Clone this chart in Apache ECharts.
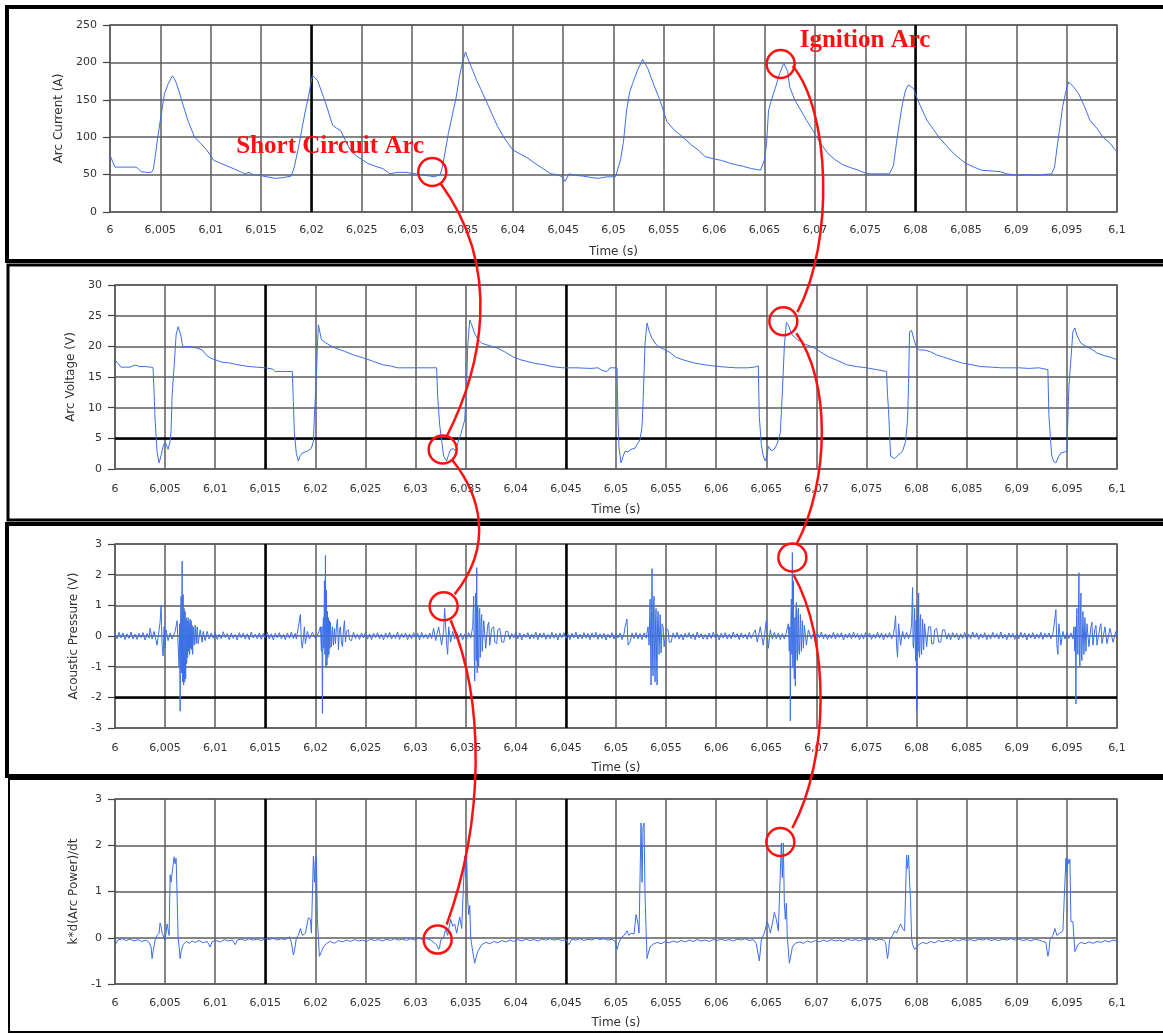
<!DOCTYPE html>
<html>
<head>
<meta charset="utf-8">
<script src="https://cdn.jsdelivr.net/npm/echarts@6/dist/echarts.min.js"></script>
<style>
html,body{margin:0;padding:0;background:#fff;}
#chart{width:1163px;height:1034px;}
</style>
</head>
<body>
<div id="chart"></div>
<script>
// ---------- tick labels ----------
const xTickLabels = ['6','6,005','6,01','6,015','6,02','6,025','6,03','6,035','6,04','6,045','6,05','6,055','6,06','6,065','6,07','6,075','6,08','6,085','6,09','6,095','6,1'];
const yAxisNames = ['Arc Current (A)','Arc Voltage (V)','Acoustic Pressure (V)','k*d(Arc Power)/dt'];
const yRanges = [[0,250,50],[0,30,5],[-3,3,1],[-1,3,1]];
const thickX = [[6.02,6.08],[6.015,6.045],[6.015,6.045],[6.015,6.045]];
const thickY = [[],[5],[-2],[]];

// ---------- series values [time (s), value] ----------
const currentData = [
[6.0000,76],[6.0003,66],[6.0005,60],[6.0016,60],[6.0026,60],[6.0028,58],[6.0031,54],[6.0036,53],[6.0041,53],[6.0043,57],[6.0045,75],[6.0047,96],[6.0050,123],[6.0052,140],[6.0054,158],[6.0058,172],[6.0062,182],[6.0064,178],[6.0066,172],[6.0070,155],[6.0073,141],[6.0078,120],[6.0084,100],[6.0090,92],[6.0096,83],[6.0103,69],[6.0110,65],[6.0119,60],[6.0126,56],[6.0134,51],[6.0138,53],[6.0142,50],[6.0149,49],[6.0156,47],[6.0164,45],[6.0172,46],[6.0180,48],[6.0183,60],[6.0187,85],[6.0191,114],[6.0194,135],[6.0197,154],[6.0201,183],[6.0203,180],[6.0206,176],[6.0212,154],[6.0216,138],[6.0221,116],[6.0225,112],[6.0229,109],[6.0235,92],[6.0240,80],[6.0248,72],[6.0256,65],[6.0264,61],[6.0271,58],[6.0278,51],[6.0285,53],[6.0294,53],[6.0303,51],[6.0313,49],[6.0318,48],[6.0322,47],[6.0328,50],[6.0330,60],[6.0332,74],[6.0336,105],[6.0341,136],[6.0344,155],[6.0347,181],[6.0350,200],[6.0353,214],[6.0356,203],[6.0360,190],[6.0364,176],[6.0368,165],[6.0373,150],[6.0379,132],[6.0385,114],[6.0392,98],[6.0400,83],[6.0408,77],[6.0415,72],[6.0422,65],[6.0430,58],[6.0438,51],[6.0444,50],[6.0449,47],[6.0452,41],[6.0456,51],[6.0462,49],[6.0470,48],[6.0478,46],[6.0485,45],[6.0493,47],[6.0502,47],[6.0507,70],[6.0510,95],[6.0513,136],[6.0516,160],[6.0519,172],[6.0524,190],[6.0529,204],[6.0534,192],[6.0540,170],[6.0546,150],[6.0553,121],[6.0560,110],[6.0569,100],[6.0577,90],[6.0584,83],[6.0591,74],[6.0600,71],[6.0607,69],[6.0614,66],[6.0622,63],[6.0629,61],[6.0637,58],[6.0646,56],[6.0650,70],[6.0652,92],[6.0654,136],[6.0658,155],[6.0661,167],[6.0665,185],[6.0669,199],[6.0673,188],[6.0675,167],[6.0680,150],[6.0686,136],[6.0692,122],[6.0698,109],[6.0705,93],[6.0713,78],[6.0720,70],[6.0728,63],[6.0736,59],[6.0743,56],[6.0750,52],[6.0755,51],[6.0764,51],[6.0774,51],[6.0778,62],[6.0781,92],[6.0784,120],[6.0787,145],[6.0790,163],[6.0793,170],[6.0798,165],[6.0802,150],[6.0807,135],[6.0812,121],[6.0818,110],[6.0823,100],[6.0831,88],[6.0838,78],[6.0845,70],[6.0850,65],[6.0858,60],[6.0865,56],[6.0874,55],[6.0884,54],[6.0890,51],[6.0897,50],[6.0903,49],[6.0910,50],[6.0918,49],[6.0926,50],[6.0935,51],[6.0938,60],[6.0941,92],[6.0944,120],[6.0946,141],[6.0949,160],[6.0952,174],[6.0957,167],[6.0962,158],[6.0968,140],[6.0973,123],[6.0980,112],[6.0986,100],[6.0993,92],[6.1000,80]
];

const voltageData = [
[6.0000,17.8],[6.0003,17.2],[6.0006,16.6],[6.0012,16.6],[6.0015,16.6],[6.0019,16.9],[6.0022,16.9],[6.0024,16.7],[6.0030,16.7],[6.0036,16.6],[6.0038,16.5],[6.0039,12.4],[6.0040,8],[6.0042,2.7],[6.0044,1.0],[6.0046,2.2],[6.0048,3.7],[6.0050,4.4],[6.0052,3.6],[6.0053,3.2],[6.0055,4.5],[6.0056,6.4],[6.0057,12],[6.0059,16.7],[6.0061,21.9],[6.0063,23.2],[6.0064,23.4],[6.0066,21.6],[6.0067,20.5],[6.0068,19.9],[6.0072,20.0],[6.0076,19.9],[6.0082,19.7],[6.0087,19.4],[6.0091,18.6],[6.0095,18.1],[6.0100,17.8],[6.0107,17.4],[6.0114,17.3],[6.0122,17.0],[6.0130,16.8],[6.0134,16.7],[6.0142,16.6],[6.0150,16.5],[6.0157,16.3],[6.0160,15.9],[6.0170,15.9],[6.0177,15.9],[6.0178,11],[6.0179,5.9],[6.0181,2.5],[6.0183,1.3],[6.0185,2.2],[6.0187,2.6],[6.0192,2.9],[6.0196,3.4],[6.0198,4.5],[6.0199,8.6],[6.0201,15.1],[6.0202,20],[6.0203,23.5],[6.0204,23.4],[6.0206,21.1],[6.0210,20.6],[6.0214,20.2],[6.0220,19.7],[6.0229,19.2],[6.0238,18.6],[6.0248,18.1],[6.0257,17.6],[6.0267,17.0],[6.0275,16.8],[6.0282,16.5],[6.0300,16.5],[6.0315,16.5],[6.0321,16.5],[6.0322,12],[6.0324,7.2],[6.0326,4.6],[6.0328,2.1],[6.0331,1.3],[6.0333,2.4],[6.0335,3.2],[6.0338,3.3],[6.0340,2.9],[6.0343,4.8],[6.0345,5.6],[6.0349,8.0],[6.0351,14],[6.0352,20],[6.0354,24.3],[6.0356,23.5],[6.0359,22.1],[6.0362,21.2],[6.0366,20.5],[6.0374,20.1],[6.0382,19.7],[6.0390,19.0],[6.0397,18.3],[6.0405,17.8],[6.0412,17.5],[6.0420,17.2],[6.0428,17.0],[6.0436,16.7],[6.0447,16.5],[6.0460,16.5],[6.0475,16.4],[6.0482,16.5],[6.0487,16.0],[6.0491,15.9],[6.0494,16.5],[6.0501,16.5],[6.0502,8.0],[6.0503,3.5],[6.0505,1.0],[6.0507,2.0],[6.0509,2.9],[6.0512,2.8],[6.0515,3.2],[6.0519,3.4],[6.0524,4.8],[6.0526,7],[6.0527,10.8],[6.0529,20.5],[6.0531,23.8],[6.0533,22.5],[6.0536,21.3],[6.0540,20.3],[6.0543,19.9],[6.0548,19.5],[6.0554,19.0],[6.0559,18.3],[6.0565,17.9],[6.0571,17.6],[6.0578,17.3],[6.0588,17.0],[6.0597,16.8],[6.0610,16.6],[6.0620,16.5],[6.0631,16.5],[6.0638,16.6],[6.0642,16.8],[6.0643,8.6],[6.0645,4],[6.0647,2.1],[6.0649,1.3],[6.0651,2.5],[6.0652,3.7],[6.0655,3.0],[6.0658,3.2],[6.0661,4.2],[6.0664,5.9],[6.0666,12.4],[6.0668,20],[6.0670,23.9],[6.0672,23.5],[6.0675,22.1],[6.0678,21.5],[6.0681,21.1],[6.0688,20.4],[6.0696,19.9],[6.0704,19.1],[6.0712,18.3],[6.0721,17.7],[6.0730,17.0],[6.0740,16.7],[6.0750,16.5],[6.0760,16.2],[6.0770,15.9],[6.0771,12],[6.0772,9.7],[6.0774,2.1],[6.0778,1.7],[6.0782,2.3],[6.0786,2.9],[6.0789,4.5],[6.0791,8],[6.0792,14.0],[6.0793,22.4],[6.0795,22.6],[6.0797,21.3],[6.0800,19.8],[6.0803,19.4],[6.0808,19.4],[6.0814,19.1],[6.0820,18.6],[6.0826,18.3],[6.0835,17.8],[6.0845,17.3],[6.0855,17.0],[6.0864,16.7],[6.0875,16.6],[6.0885,16.5],[6.0902,16.5],[6.0912,16.4],[6.0922,16.5],[6.0931,16.2],[6.0932,8.9],[6.0934,4],[6.0935,2.1],[6.0937,1.2],[6.0939,1.0],[6.0942,2.1],[6.0944,2.6],[6.0948,2.8],[6.0950,2.9],[6.0952,13.5],[6.0956,22.4],[6.0958,23.0],[6.0960,21.8],[6.0964,20.5],[6.0970,19.9],[6.0976,19.4],[6.0980,18.9],[6.0987,18.5],[6.0994,18.2],[6.1000,17.8]
];

const acousticData = [
[6.0000,.05],[6.0002,-.09],[6.0004,.12],[6.0006,-.06],[6.0008,.1],[6.0010,-.12],[6.0012,.07],[6.0014,-.08],[6.0016,.13],[6.0018,-.1],[6.0020,.06],[6.0022,-.11],[6.0024,.09],[6.0026,-.05],[6.0028,.11],[6.0030,-.13],[6.0032,.08],[6.0034,-.07],
[6.0035,.25],[6.0037,-.1],[6.0039,.15],[6.0042,-.3],[6.0044,.2],[6.0045,.45],[6.0046,1.0],[6.0047,-.3],[6.0048,-.65],[6.0049,.3],[6.0050,-.4],[6.0051,.2],[6.0053,-.15],[6.0055,.1],[6.0057,-.1],[6.0060,.15],
[6.0062,.5],[6.0063,-.3],[6.0064,-1.0],[6.00645,.4],[6.0065,-2.45],[6.00655,.6],[6.0066,1.3],[6.00665,-1.2],[6.0067,2.44],[6.00675,-1.5],[6.0068,1.35],[6.00685,-1.6],[6.0069,.9],[6.00695,-1.5],[6.0070,.8],[6.00705,-1.4],[6.0071,.6],[6.00715,-.9],[6.0072,.5],[6.00725,-.7],[6.0073,.6],[6.00735,-.5],[6.0074,.45],[6.00745,-.6],[6.0075,.55],[6.00755,-.4],[6.0076,.5],[6.00765,-.45],[6.0077,.35],[6.00775,-.6],[6.0078,.3],[6.0079,-.3],[6.0080,.35],[6.0081,-.25],[6.0082,.3],[6.0083,-.25],[6.0085,.2],[6.0087,-.2],[6.0088,.15],[6.0090,-.15],[6.0092,.15],[6.0094,-.1],
[6.0096,.1],[6.0098,-.07],[6.0100,.12],[6.0102,-.11],[6.0104,.06],[6.0106,-.09],[6.0108,.14],[6.0110,-.05],[6.0112,.08],[6.0114,-.12],[6.0116,.1],[6.0118,-.08],[6.0120,.05],[6.0122,-.13],[6.0124,.11],[6.0126,-.06],[6.0128,.09],[6.0130,-.1],[6.0132,.07],[6.0134,-.12],[6.0136,.13],[6.0138,-.07],[6.0140,.06],[6.0142,-.09],[6.0144,.1],[6.0146,-.11],[6.0148,.08],[6.0150,-.05],[6.0152,.12],[6.0154,-.1],[6.0156,.07],[6.0158,-.13],[6.0160,.09],[6.0162,-.06],[6.0164,.11],[6.0166,-.09],[6.0168,.05],[6.0170,-.12],[6.0172,.1],[6.0174,-.07],[6.0176,.13],[6.0178,-.08],[6.0180,.09],
[6.0181,-.1],[6.0183,.3],[6.0185,.7],[6.0186,-.2],[6.0187,-.4],[6.0189,.3],[6.0190,-.25],[6.0192,.15],[6.0194,-.1],[6.0197,.12],[6.0200,-.08],[6.0203,.1],
[6.0205,.3],[6.0206,-.5],[6.02065,.3],[6.0207,-2.52],[6.02075,.2],[6.0208,.6],[6.02085,-.4],[6.0209,1.8],[6.02095,-.6],[6.0210,2.63],[6.02105,-1.0],[6.0211,1.5],[6.02115,-.95],[6.0212,.8],[6.02125,-.7],[6.0213,.6],[6.02135,-.6],[6.0214,.5],[6.02145,-.4],[6.0215,.45],[6.0216,-.35],[6.0217,.3],[6.0218,-.3],[6.0219,.25],[6.0220,-.25],[6.0221,.3],[6.0222,.55],[6.0223,-.45],[6.0224,.2],[6.0225,.3],[6.0226,-.2],[6.0227,-.35],[6.0228,.2],[6.0229,.5],[6.0230,-.2],[6.0231,.15],[6.0233,.2],[6.0234,-.12],[6.0236,-.15],
[6.0238,.12],[6.0240,-.08],[6.0242,.06],[6.0244,-.11],[6.0246,.1],[6.0248,-.06],[6.0250,.13],[6.0252,-.1],[6.0254,.07],[6.0256,-.12],[6.0258,.09],[6.0260,-.05],[6.0262,.11],[6.0264,-.09],[6.0266,.06],[6.0268,-.13],[6.0270,.1],[6.0272,-.07],[6.0274,.12],[6.0276,-.1],[6.0278,.05],[6.0280,-.08],[6.0282,.13],[6.0284,-.11],[6.0286,.08],[6.0288,-.06],[6.0290,.1],[6.0292,-.12],[6.0294,.07],[6.0296,-.09],[6.0298,.11],[6.0300,-.05],[6.0302,.09],[6.0304,-.13],[6.0306,.12],[6.0308,-.07],[6.0310,.06],[6.0312,-.1],[6.0314,.1],[6.0316,-.08],
[6.0318,.25],[6.0320,-.15],[6.0323,.3],[6.0326,-.3],[6.0328,.2],[6.0329,.9],[6.0330,.85],[6.0331,-.3],[6.0332,-.6],[6.0333,.3],[6.0335,-.2],[6.0337,.15],
[6.0339,-.1],[6.0341,.12],[6.0343,-.07],[6.0345,.09],[6.0347,-.12],[6.0349,.06],[6.0351,-.09],[6.0353,.11],[6.0355,-.06],
[6.0357,.3],[6.0358,1.3],[6.03585,-.5],[6.0359,-1.47],[6.03595,.5],[6.0360,1.4],[6.03605,-.8],[6.0361,2.23],[6.03615,-1.2],[6.0362,1.0],[6.03625,-.9],[6.0363,-1.0],[6.03635,.8],[6.0364,.9],[6.03645,-.7],[6.0365,-.7],[6.03655,.6],[6.0366,.7],[6.03665,-.5],[6.0367,-.5],[6.0368,.5],[6.0369,.55],[6.0370,-.4],[6.0371,-.4],[6.0372,.35],[6.0373,.45],[6.0374,-.3],[6.0375,-.3],[6.0376,.25],[6.0378,.3],[6.0379,-.2],[6.0381,-.25],[6.0382,.2],[6.0384,.25],[6.0386,-.2],[6.0388,-.2],[6.0390,.15],[6.0392,.15],
[6.0394,-.11],[6.0396,.08],[6.0398,-.06],[6.0400,.12],[6.0402,-.09],[6.0404,.1],[6.0406,-.13],[6.0408,.07],[6.0410,-.05],[6.0412,.11],[6.0414,-.1],[6.0416,.06],[6.0418,-.08],[6.0420,.13],[6.0422,-.12],[6.0424,.09],[6.0426,-.06],[6.0428,.1],[6.0430,-.11],[6.0432,.05],[6.0434,-.09],[6.0436,.12],[6.0438,-.07],[6.0440,.08],[6.0442,-.13],[6.0444,.1],[6.0446,-.05],[6.0448,.11],[6.0450,-.08],[6.0452,.07],[6.0454,-.12],[6.0456,.09],[6.0458,-.06],[6.0460,.13],[6.0462,-.1],[6.0464,.06],[6.0466,-.09],[6.0468,.11],[6.0470,-.07],[6.0472,.08],[6.0474,-.12],[6.0476,.1],[6.0478,-.05],[6.0480,.12],[6.0482,-.11],[6.0484,.07],[6.0486,-.08],[6.0488,.09],[6.0490,-.13],[6.0492,.06],[6.0494,-.07],[6.0496,.11],[6.0498,-.1],[6.0500,.08],[6.0502,-.06],[6.0504,.1],[6.0506,-.12],[6.0508,.07],
[6.0509,.3],[6.0511,.55],[6.0512,-.3],[6.0514,-.2],[6.0516,.1],[6.0518,-.08],[6.0520,.11],[6.0522,-.1],[6.0524,.08],[6.0526,-.12],[6.0528,.1],[6.0530,-.07],
[6.0532,.3],[6.0533,-.3],[6.0534,1.2],[6.0535,-1.6],[6.05355,.8],[6.0536,2.2],[6.05365,-.9],[6.0537,-1.3],[6.05375,1.0],[6.0538,1.3],[6.05385,-.8],[6.0539,-1.5],[6.05395,.6],[6.0540,.9],[6.05405,-.9],[6.0541,-1.6],[6.05415,.5],[6.0542,.8],[6.0543,-.6],[6.0544,.7],[6.0545,-.55],[6.0546,.4],[6.0547,.3],[6.0548,-.35],[6.0549,-.3],[6.0550,.25],[6.0552,.2],[6.0553,-.2],[6.0555,-.2],
[6.0557,.1],[6.0559,-.07],[6.0561,.12],[6.0563,-.1],[6.0565,.06],[6.0567,-.13],[6.0569,.09],[6.0571,-.05],[6.0573,.11],[6.0575,-.09],[6.0577,.07],[6.0579,-.12],[6.0581,.13],[6.0583,-.06],[6.0585,.08],[6.0587,-.1],[6.0589,.05],[6.0591,-.11],[6.0593,.1],[6.0595,-.08],[6.0597,.12],[6.0599,-.06],[6.0601,.07],[6.0603,-.13],[6.0605,.09],[6.0607,-.07],[6.0609,.11],[6.0611,-.1],[6.0613,.06],[6.0615,-.09],[6.0617,.13],[6.0619,-.05],[6.0621,.08],[6.0623,-.12],[6.0625,.1],[6.0627,-.07],[6.0629,.06],[6.0631,-.11],[6.0633,.12],[6.0635,-.08],[6.0637,.07],
[6.0639,.2],[6.0641,-.2],[6.0644,.3],[6.0647,-.3],[6.0650,.5],[6.0652,-.4],[6.0654,.2],[6.0656,-.1],[6.0658,.12],[6.0660,-.09],[6.0662,.1],[6.0664,-.12],[6.0666,.08],[6.0668,-.1],[6.0670,.12],
[6.0672,.4],[6.0673,-.5],[6.06735,.3],[6.0674,-2.77],[6.06745,.5],[6.0675,1.2],[6.06755,-.6],[6.0676,2.72],[6.06765,-1.0],[6.0677,1.8],[6.06775,-.8],[6.0678,-1.4],[6.06785,.6],[6.0679,-1.63],[6.06795,.8],[6.0680,1.1],[6.06805,-.6],[6.0681,-.8],[6.06815,.7],[6.0682,.9],[6.06825,-.5],[6.0683,-.6],[6.0684,.7],[6.0685,-.5],[6.0686,.5],[6.0687,-.4],[6.0688,.35],[6.0689,.3],[6.0690,-.3],[6.0691,-.3],[6.0692,.2],[6.0693,.15],
[6.0695,-.1],[6.0697,.08],[6.0699,-.12],[6.0701,.1],[6.0703,-.06],[6.0705,.13],[6.0707,-.09],[6.0709,.07],[6.0711,-.11],[6.0713,.05],[6.0715,-.08],[6.0717,.12],[6.0719,-.1],[6.0721,.09],[6.0723,-.05],[6.0725,.11],[6.0727,-.13],[6.0729,.06],[6.0731,-.07],[6.0733,.1],[6.0735,-.09],[6.0737,.13],[6.0739,-.06],[6.0741,.08],[6.0743,-.12],[6.0745,.07],[6.0747,-.1],[6.0749,.11],[6.0751,-.05],[6.0753,.09],[6.0755,-.11],[6.0757,.06],[6.0759,-.08],[6.0761,.12],[6.0763,-.07],[6.0765,.1],[6.0767,-.13],[6.0769,.08],[6.0771,-.06],[6.0773,.11],[6.0775,-.09],[6.0777,.07],
[6.0778,.3],[6.0779,.66],[6.0780,-.3],[6.0781,-.69],[6.0782,.4],[6.0784,-.3],[6.0786,.15],[6.0788,-.1],[6.0790,.12],[6.0792,-.09],[6.0794,.1],
[6.0795,.4],[6.0796,1.58],[6.07965,-.3],[6.0797,-.4],[6.0798,.9],[6.0799,-.8],[6.07995,.5],[6.0800,-2.39],[6.08005,.4],[6.0801,1.0],[6.08015,-.5],[6.0802,1.4],[6.08025,-.6],[6.0803,-.7],[6.08035,.5],[6.0804,.7],[6.08045,-.4],[6.0805,-.6],[6.0806,.55],[6.0807,-.45],[6.0808,.4],[6.0809,.4],[6.0810,-.35],[6.0811,-.35],[6.0812,.3],[6.0814,.3],[6.0815,-.25],[6.0817,-.25],[6.0818,.2],[6.0820,.25],[6.0822,-.2],[6.0824,-.2],[6.0826,.2],[6.0828,.2],
[6.0830,-.1],[6.0832,.08],[6.0834,-.12],[6.0836,.11],[6.0838,-.06],[6.0840,.09],[6.0842,-.13],[6.0844,.07],[6.0846,-.08],[6.0848,.12],[6.0850,-.1],[6.0852,.06],[6.0854,-.09],[6.0856,.13],[6.0858,-.05],[6.0860,.1],[6.0862,-.11],[6.0864,.07],[6.0866,-.07],[6.0868,.11],[6.0870,-.12],[6.0872,.05],[6.0874,-.09],[6.0876,.12],[6.0878,-.06],[6.0880,.08],[6.0882,-.1],[6.0884,.13],[6.0886,-.08],[6.0888,.06],[6.0890,-.12],[6.0892,.1],[6.0894,-.05],[6.0896,.09],[6.0898,-.11],[6.0900,.07],[6.0902,-.09],[6.0904,.12],[6.0906,-.06],[6.0908,.1],[6.0910,-.13],[6.0912,.08],[6.0914,-.07],[6.0916,.11],[6.0918,-.1],[6.0920,.06],[6.0922,-.08],[6.0924,.12],[6.0926,-.11],[6.0928,.09],[6.0930,-.05],[6.0932,.1],[6.0934,-.09],[6.0936,.07],
[6.0937,.3],[6.0939,.86],[6.0940,-.3],[6.0941,-.6],[6.0942,.4],[6.0944,-.3],[6.0946,.15],[6.0948,-.1],[6.0950,.12],[6.0952,-.08],[6.0954,.1],[6.0956,-.1],
[6.0957,.3],[6.0958,-.5],[6.09585,.3],[6.0959,-2.22],[6.09595,.4],[6.0960,.9],[6.09605,-.4],[6.0961,-.6],[6.09615,.7],[6.0962,2.06],[6.09625,-.7],[6.0963,-1.0],[6.09635,.8],[6.0964,1.4],[6.09645,-.6],[6.0965,-.8],[6.0966,.8],[6.0967,-.6],[6.0968,.6],[6.0969,-.5],[6.0970,.4],[6.0971,.45],[6.0972,-.35],[6.0973,-.4],[6.0974,.3],[6.0975,.45],[6.0976,-.3],[6.0977,-.35],[6.0978,.25],[6.0979,.35],[6.0980,-.3],[6.0981,-.3],[6.0983,.3],[6.0984,.4],[6.0985,-.25],[6.0986,-.25],[6.0988,.3],[6.0989,.3],[6.0990,-.25],[6.0991,-.3],[6.0993,.25],[6.0994,.25],[6.0996,-.2],[6.0997,-.2],[6.0999,.15],[6.1000,.05]
];

const powerDerivData = [
[6.0000,-.15],[6.0003,-.05],[6.0007,-.02],[6.0011,-.06],[6.0015,-.03],[6.0019,-.07],[6.0023,-.04],[6.0027,-.08],[6.0031,-.05],[6.0034,-.1],[6.0036,-.2],[6.0037,-.45],[6.0038,-.3],[6.0040,-.05],[6.0042,.05],[6.0044,.1],[6.0045,.32],[6.0046,.25],[6.0047,.1],[6.0050,-.05],[6.0052,.3],[6.0054,.05],[6.0055,1.36],[6.0056,1.2],[6.0057,1.4],[6.0058,1.36],[6.0059,1.75],[6.0060,1.6],[6.0061,1.72],[6.0062,.9],[6.0063,0],[6.0064,-.2],[6.0065,-.45],[6.0066,-.3],[6.0068,-.15],[6.0071,-.08],[6.0074,-.12],[6.0077,-.07],[6.0080,-.1],[6.0084,-.06],[6.0088,-.11],[6.0092,-.08],[6.0095,-.2],[6.0097,-.08],[6.0101,-.06],[6.0105,-.09],[6.0109,-.04],[6.0113,-.07],[6.0117,-.05],[6.0120,-.15],[6.0122,-.05],[6.0126,-.03],[6.0130,-.06],[6.0134,-.02],[6.0138,-.05],[6.0142,-.03],[6.0146,-.06],[6.0150,-.02],[6.0154,-.04],[6.0158,-.01],[6.0162,-.05],[6.0166,-.02],[6.0170,-.04],[6.0174,.02],[6.0176,-.1],[6.0178,-.37],[6.0179,-.3],[6.0181,0],[6.0183,.05],[6.0185,.2],[6.0187,.05],[6.0190,.1],[6.0193,.43],[6.0195,.4],[6.0196,.1],[6.0198,1.76],[6.0199,1.2],[6.0200,1.7],[6.0201,1.76],[6.0202,.4],[6.0203,0],[6.0204,-.4],[6.0206,-.3],[6.0208,-.2],[6.0211,-.12],[6.0215,-.08],[6.0219,-.12],[6.0223,-.06],[6.0227,-.09],[6.0231,-.05],[6.0235,-.08],[6.0239,-.04],[6.0243,-.07],[6.0247,-.05],[6.0251,-.08],[6.0255,-.03],[6.0259,-.06],[6.0263,-.04],[6.0267,-.07],[6.0271,-.03],[6.0275,-.06],[6.0279,-.02],[6.0283,-.05],[6.0287,-.03],[6.0291,-.06],[6.0295,-.02],[6.0299,-.05],[6.0303,-.01],[6.0307,-.04],[6.0311,-.02],[6.0315,-.05],[6.0318,-.1],[6.0321,-.15],[6.0323,-.25],[6.0324,-.2],[6.0325,-.05],[6.0328,0],[6.0330,.2],[6.0332,.05],[6.0335,.4],[6.0337,.25],[6.0339,.3],[6.0341,.1],[6.0344,.45],[6.0346,.2],[6.0349,1.77],[6.0350,1.3],[6.0351,1.77],[6.0352,.8],[6.0353,.5],[6.0354,.7],[6.0355,0],[6.0357,-.3],[6.0359,-.55],[6.0360,-.45],[6.0362,-.3],[6.0366,-.15],[6.0370,-.1],[6.0374,-.13],[6.0378,-.08],[6.0382,-.11],[6.0386,-.06],[6.0390,-.09],[6.0394,-.05],[6.0398,-.08],[6.0402,-.04],[6.0406,-.07],[6.0410,-.03],[6.0414,-.06],[6.0418,-.04],[6.0422,-.07],[6.0426,-.03],[6.0430,-.05],[6.0434,-.02],[6.0438,-.05],[6.0442,-.03],[6.0446,-.06],[6.0450,-.04],[6.0453,-.15],[6.0456,-.03],[6.0460,-.05],[6.0464,-.02],[6.0468,-.06],[6.0472,-.03],[6.0476,-.05],[6.0480,-.01],[6.0484,-.04],[6.0488,-.02],[6.0492,-.05],[6.0496,-.03],[6.0499,-.08],[6.0501,-.25],[6.0503,-.1],[6.0505,0],[6.0508,.05],[6.0511,.15],[6.0513,.05],[6.0515,.1],[6.0518,.08],[6.0520,.5],[6.0522,.3],[6.0523,.1],[6.0525,2.48],[6.0526,1.2],[6.0527,2.4],[6.0528,2.48],[6.0529,.9],[6.0530,.2],[6.0531,-.45],[6.0532,-.35],[6.0534,-.2],[6.0537,-.14],[6.0541,-.1],[6.0545,-.13],[6.0549,-.08],[6.0553,-.11],[6.0557,-.07],[6.0561,-.1],[6.0565,-.06],[6.0569,-.09],[6.0573,-.05],[6.0577,-.08],[6.0581,-.04],[6.0585,-.07],[6.0589,-.05],[6.0593,-.08],[6.0597,-.04],[6.0601,-.06],[6.0605,-.03],[6.0609,-.06],[6.0613,-.04],[6.0617,-.07],[6.0621,-.03],[6.0625,-.05],[6.0629,-.02],[6.0633,-.06],[6.0637,-.04],[6.0640,-.12],[6.0643,-.5],[6.0644,-.3],[6.0645,-.05],[6.0648,.1],[6.0651,.35],[6.0653,.2],[6.0654,.1],[6.0656,.3],[6.0658,.55],[6.0660,.4],[6.0662,.15],[6.0665,2.05],[6.0666,1.3],[6.0667,2.05],[6.0668,.75],[6.0669,.4],[6.0670,.75],[6.0671,0],[6.0673,-.55],[6.0674,-.45],[6.0676,-.2],[6.0679,-.12],[6.0683,-.09],[6.0687,-.12],[6.0691,-.07],[6.0695,-.1],[6.0699,-.06],[6.0703,-.09],[6.0707,-.05],[6.0711,-.08],[6.0715,-.04],[6.0719,-.07],[6.0723,-.05],[6.0727,-.08],[6.0731,-.03],[6.0735,-.06],[6.0739,-.04],[6.0743,-.07],[6.0747,-.03],[6.0751,-.05],[6.0755,-.02],[6.0759,-.06],[6.0763,-.03],[6.0767,-.05],[6.0769,-.1],[6.0771,-.45],[6.0772,-.3],[6.0773,-.05],[6.0776,.05],[6.0778,.15],[6.0780,.1],[6.0782,.2],[6.0784,.3],[6.0786,.2],[6.0788,.15],[6.0790,1.79],[6.0791,1.5],[6.0792,1.79],[6.0793,1.2],[6.0794,.8],[6.0795,0],[6.0796,-.15],[6.0798,-.25],[6.0800,-.2],[6.0802,-.15],[6.0806,-.1],[6.0810,-.13],[6.0814,-.08],[6.0818,-.11],[6.0822,-.06],[6.0826,-.09],[6.0830,-.05],[6.0834,-.08],[6.0838,-.04],[6.0842,-.07],[6.0846,-.03],[6.0850,-.06],[6.0854,-.04],[6.0858,-.07],[6.0862,-.03],[6.0866,-.05],[6.0870,-.02],[6.0874,-.06],[6.0878,-.04],[6.0882,-.06],[6.0886,-.03],[6.0890,-.05],[6.0894,-.02],[6.0898,-.05],[6.0902,-.03],[6.0906,-.06],[6.0910,-.04],[6.0914,-.07],[6.0918,-.03],[6.0922,-.05],[6.0926,-.08],[6.0929,-.1],[6.0931,-.4],[6.0932,-.3],[6.0933,-.05],[6.0936,.05],[6.0938,.2],[6.0940,.05],[6.0943,.1],[6.0946,.15],[6.0949,1.72],[6.0950,1.4],[6.0951,1.7],[6.0952,1.6],[6.0953,1.7],[6.0954,.35],[6.0956,.35],[6.0957,0],[6.0958,-.3],[6.0959,-.25],[6.0961,-.15],[6.0964,-.1],[6.0968,-.13],[6.0972,-.09],[6.0976,-.12],[6.0980,-.08],[6.0984,-.1],[6.0988,-.06],[6.0992,-.09],[6.0996,-.05],[6.1000,-.07]
];

// annotation anchors [time, value] per panel
const shortCircuitAnchors = [[6.0320,53.5],[6.0327,3.17],[6.0328,0.97],[6.0322,-0.04]];
const ignitionAnchors = [[6.0666,197.9],[6.0667,24.1],[6.0676,2.56],[6.0664,2.07]];

const allSeries = [currentData, voltageData, acousticData, powerDerivData];

// ---------- layout ----------
const grids = [
  {left:110, top:25, width:1007, height:187},
  {left:115, top:285, width:1002, height:184},
  {left:115, top:544, width:1002, height:184},
  {left:115, top:799, width:1002, height:185}
];
const yNameGap = [38,32,32,32];
const xLabelMargin = [13,15,15,14];
const xNameGap = [34,35,34,33];

const GRID_COLOR = '#5c5c5c';
const LINE_COLOR = '#3c6fe6';
const FONT = '"DejaVu Sans", Verdana, sans-serif';

const chart = echarts.init(document.getElementById('chart'), null, {renderer:'canvas'});

const option = {
  animation:false,
  backgroundColor:'#fff',
  grid: grids.map(g => Object.assign({show:true, borderColor:GRID_COLOR, borderWidth:1.5, backgroundColor:'#fff'}, g)),
  xAxis: grids.map((g,i) => ({
    type:'value', gridIndex:i, min:6, max:6.1, interval:0.005,
    axisLine:{show:false}, axisTick:{show:false},
    axisLabel:{fontSize:11, color:'#333', fontFamily:FONT, margin:xLabelMargin[i],
      formatter: v => { const k = Math.round((v-6)/0.005); return xTickLabels[k] !== undefined ? xTickLabels[k] : ''; }},
    splitLine:{show:true, lineStyle:{color:GRID_COLOR, width:1.5}},
    name:'Time (s)', nameLocation:'middle', nameGap:xNameGap[i],
    nameTextStyle:{fontSize:12, color:'#333', fontFamily:FONT}
  })),
  yAxis: grids.map((g,i) => ({
    type:'value', gridIndex:i, min:yRanges[i][0], max:yRanges[i][1], interval:yRanges[i][2],
    axisLine:{show:false},
    axisTick:{show:true, length:7, lineStyle:{color:'#444', width:1.2}},
    axisLabel:{fontSize:11, color:'#333', fontFamily:FONT, margin:13},
    splitLine:{show:true, lineStyle:{color:GRID_COLOR, width:1.5}},
    name:yAxisNames[i], nameLocation:'middle', nameGap:yNameGap[i], nameRotate:90,
    nameTextStyle:{fontSize:12, color:'#333', fontFamily:FONT}
  })),
  series: allSeries.map((d,i) => ({
    type:'line', xAxisIndex:i, yAxisIndex:i, data:d,
    showSymbol:false, symbol:'none', silent:true,
    lineStyle:{color:LINE_COLOR, width:1},
    z:3,
    markLine:{
      silent:true, symbol:'none', precision:4, label:{show:false}, animation:false, z:2,
      lineStyle:{color:'#000', width:2.5, type:'solid'},
      data:[...thickX[i].map(x => ({xAxis:x})), ...thickY[i].map(y => ({yAxis:y}))]
    }
  }))
};
chart.setOption(option);

// ---------- annotations ----------
const RED = '#ff1010';
const R = 14;
function px(i, pt){ return chart.convertToPixel({gridIndex:i}, pt); }
const sc = shortCircuitAnchors.map((p,i) => px(i,p));
const ig = ignitionAnchors.map((p,i) => px(i,p));

function circle(c){
  return {type:'circle', z:100, silent:true, shape:{cx:c[0], cy:c[1], r:R},
    style:{fill:'none', stroke:RED, lineWidth:2.5}};
}
function curve(A, B, p0, c1, c2, p3){
  return {type:'bezierCurve', z:100, silent:true,
    shape:{x1:A[0]+p0[0], y1:A[1]+p0[1], cpx1:A[0]+c1[0], cpy1:A[1]+c1[1],
           cpx2:B[0]+c2[0], cpy2:B[1]+c2[1], x2:B[0]+p3[0], y2:B[1]+p3[1]},
    style:{fill:'none', stroke:RED, lineWidth:2.5}};
}

const graphics = [
  {type:'rect', z:50, silent:true, shape:{x:7, y:7, width:1200, height:254}, style:{fill:'none', stroke:'#000', lineWidth:4}},
  {type:'rect', z:50, silent:true, shape:{x:8, y:265, width:1200, height:255}, style:{fill:'none', stroke:'#000', lineWidth:3}},
  {type:'rect', z:50, silent:true, shape:{x:7, y:524, width:1200, height:252}, style:{fill:'none', stroke:'#000', lineWidth:4}},
  {type:'rect', z:50, silent:true, shape:{x:9, y:779, width:1200, height:253}, style:{fill:'none', stroke:'#000', lineWidth:2}},
  ...sc.map(circle), ...ig.map(circle),
  curve(sc[0], sc[1], [8,11], [72,98], [38,-80], [4,-13]),
  curve(sc[1], sc[2], [10,11], [37,45], [51,-62], [11,-12]),
  curve(sc[2], sc[3], [7,14], [41,93], [47,-120], [9,-15]),
  curve(ig[0], ig[1], [12,2], [49,46], [52,-81], [14,-9]),
  curve(ig[1], ig[2], [13,12], [47,59], [38,-78], [4,-13]),
  curve(ig[2], ig[3], [1,17], [38,82], [49,-82], [12,-14]),
  {type:'text', z:101, silent:true, style:{text:'Short Circuit Arc', x:sc[0][0]-196, y:sc[0][1]-25,
    font:'bold 25px "Liberation Serif", "Times New Roman", serif', fill:RED, align:'left', verticalAlign:'middle'}},
  {type:'text', z:101, silent:true, style:{text:'Ignition Arc', x:ig[0][0]+19, y:ig[0][1]-23.5,
    font:'bold 25px "Liberation Serif", "Times New Roman", serif', fill:RED, align:'left', verticalAlign:'middle'}}
];
chart.setOption({graphic:{elements:graphics}});
</script>
</body>
</html>
